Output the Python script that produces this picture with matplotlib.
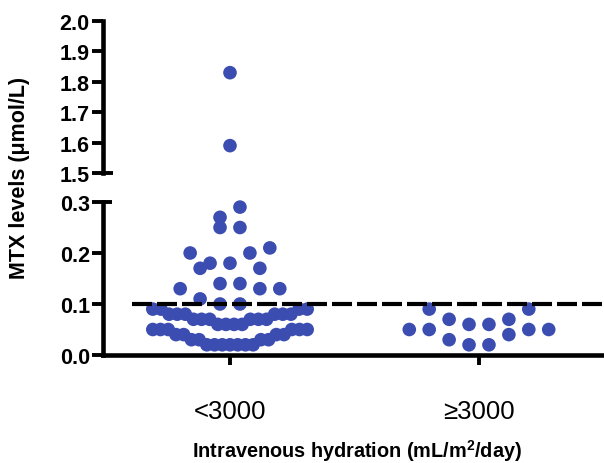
import numpy as np
import matplotlib
matplotlib.use("Agg")
import matplotlib.pyplot as plt

plt.rcParams['font.family'] = ['Liberation Sans', 'DejaVu Sans']
plt.rcParams['mathtext.fontset'] = 'custom'
plt.rcParams['mathtext.rm'] = 'Liberation Sans:bold'
plt.rcParams['mathtext.bf'] = 'Liberation Sans:bold'

# 資料
groups = ['<3000', '\u22653000']
mtx_low_hydration = ([1.83, 1.59, 0.29, 0.27, 0.25, 0.25, 0.21, 0.20, 0.20, 0.18, 0.18,
                      0.17, 0.17, 0.14, 0.14, 0.13, 0.13, 0.13, 0.11, 0.10, 0.10]
                     + [0.09] * 4 + [0.08] * 6 + [0.07] * 6 + [0.06] * 4
                     + [0.05] * 6 + [0.04] * 4 + [0.03] * 4 + [0.02] * 7)
mtx_high_hydration = [0.09, 0.09, 0.07, 0.07, 0.06, 0.06, 0.05, 0.05, 0.05, 0.05,
                      0.04, 0.03, 0.02, 0.02]
cutoff = 0.1
upper_ticks = [1.5, 1.6, 1.7, 1.8, 1.9, 2.0]
lower_ticks = [0.0, 0.1, 0.2, 0.3]

DOT = '#3b4db0'


def prism_scatter(values, center, bin_h=0.04, bin_start=0.015, slot=0.08, max_width=0.62):
    # Prism 風格: 分列排點, 同一列由中心往外排
    vals = np.asarray(values, dtype=float)
    xs = np.zeros_like(vals)
    bins = np.floor((vals - bin_start) / bin_h + 1e-6).astype(int)
    for b in np.unique(bins):
        idx = np.where(bins == b)[0]
        idx = idx[np.argsort(vals[idx], kind='stable')]
        n = len(idx)
        step = slot if n < 2 else min(slot, max_width / (n - 1))
        offs = (np.arange(n) - (n - 1) / 2) * step
        order = np.argsort(np.abs(offs), kind='stable')
        xs[idx] = center + offs[order]
    return xs


W, H = 604, 464
fig = plt.figure(figsize=(W / 100, H / 100), dpi=100)
ax_top = fig.add_axes([103 / W, 1 - 174 / H, 501 / W, 152 / H])
ax_low = fig.add_axes([103 / W, 1 - 356 / H, 501 / W, 153 / H])

spine_lw = 3.3
for ax in (ax_top, ax_low):
    for s in ('top', 'right'):
        ax.spines[s].set_visible(False)
    ax.spines['left'].set_linewidth(spine_lw)
    ax.set_xlim(0.49, 2.502)
    ax.tick_params(axis='y', width=2.8, length=8, pad=1.5)
ax_top.spines['bottom'].set_visible(False)
ax_low.spines['bottom'].set_linewidth(spine_lw)

ax_top.set_ylim(1.5, 2.0)
ax_low.set_ylim(0.0, 0.3)
ax_top.set_yticks(upper_ticks)
ax_low.set_yticks(lower_ticks)
ax_top.set_yticklabels([f'{t:.1f}' for t in upper_ticks], fontweight='bold', fontsize=15.5)
ax_low.set_yticklabels([f'{t:.1f}' for t in lower_ticks], fontweight='bold', fontsize=15.5)
ax_top.set_xticks([])
ax_low.set_xticks([1, 2])
ax_low.set_xticklabels(groups, fontsize=18.5)
ax_low.tick_params(axis='x', width=2.8, length=7, pad=25)

# 斷軸的小橫線
ax_low.plot([0, 9 / 501], [1, 1], transform=ax_low.transAxes, color='k', lw=2.8,
            clip_on=False, solid_capstyle='butt')
ax_top.plot([0, 10 / 501], [0, 0], transform=ax_top.transAxes, color='k', lw=2.8,
            clip_on=False, solid_capstyle='butt')

# 虛線 0.1
ax_low.axhline(cutoff, xmin=29 / 501, color='k', lw=3, linestyle=(0, (4.8, 1.2)), zorder=3)

for center, vals in zip([1, 2], [mtx_low_hydration, mtx_high_hydration]):
    vals = np.asarray(vals)
    xs = prism_scatter(vals, center)
    hi = vals >= 1
    for ax, m in ((ax_top, hi), (ax_low, ~hi)):
        if m.any():
            ax.scatter(xs[m], vals[m], s=96, color=DOT, edgecolors='none', zorder=2, clip_on=False)

fig.text(20 / W, 1 - 178 / H, 'MTX levels (\u03bcmol/L)', rotation=90, ha='center', va='center',
         fontsize=15.5, fontweight='bold')
fig.text(357 / W, 1 - 458 / H, r'Intravenous hydration (mL/m$^{\mathbf{2}}$/day)', ha='center',
         va='baseline', fontsize=14.3, fontweight='bold')

fig.savefig('out.png', dpi=100)
